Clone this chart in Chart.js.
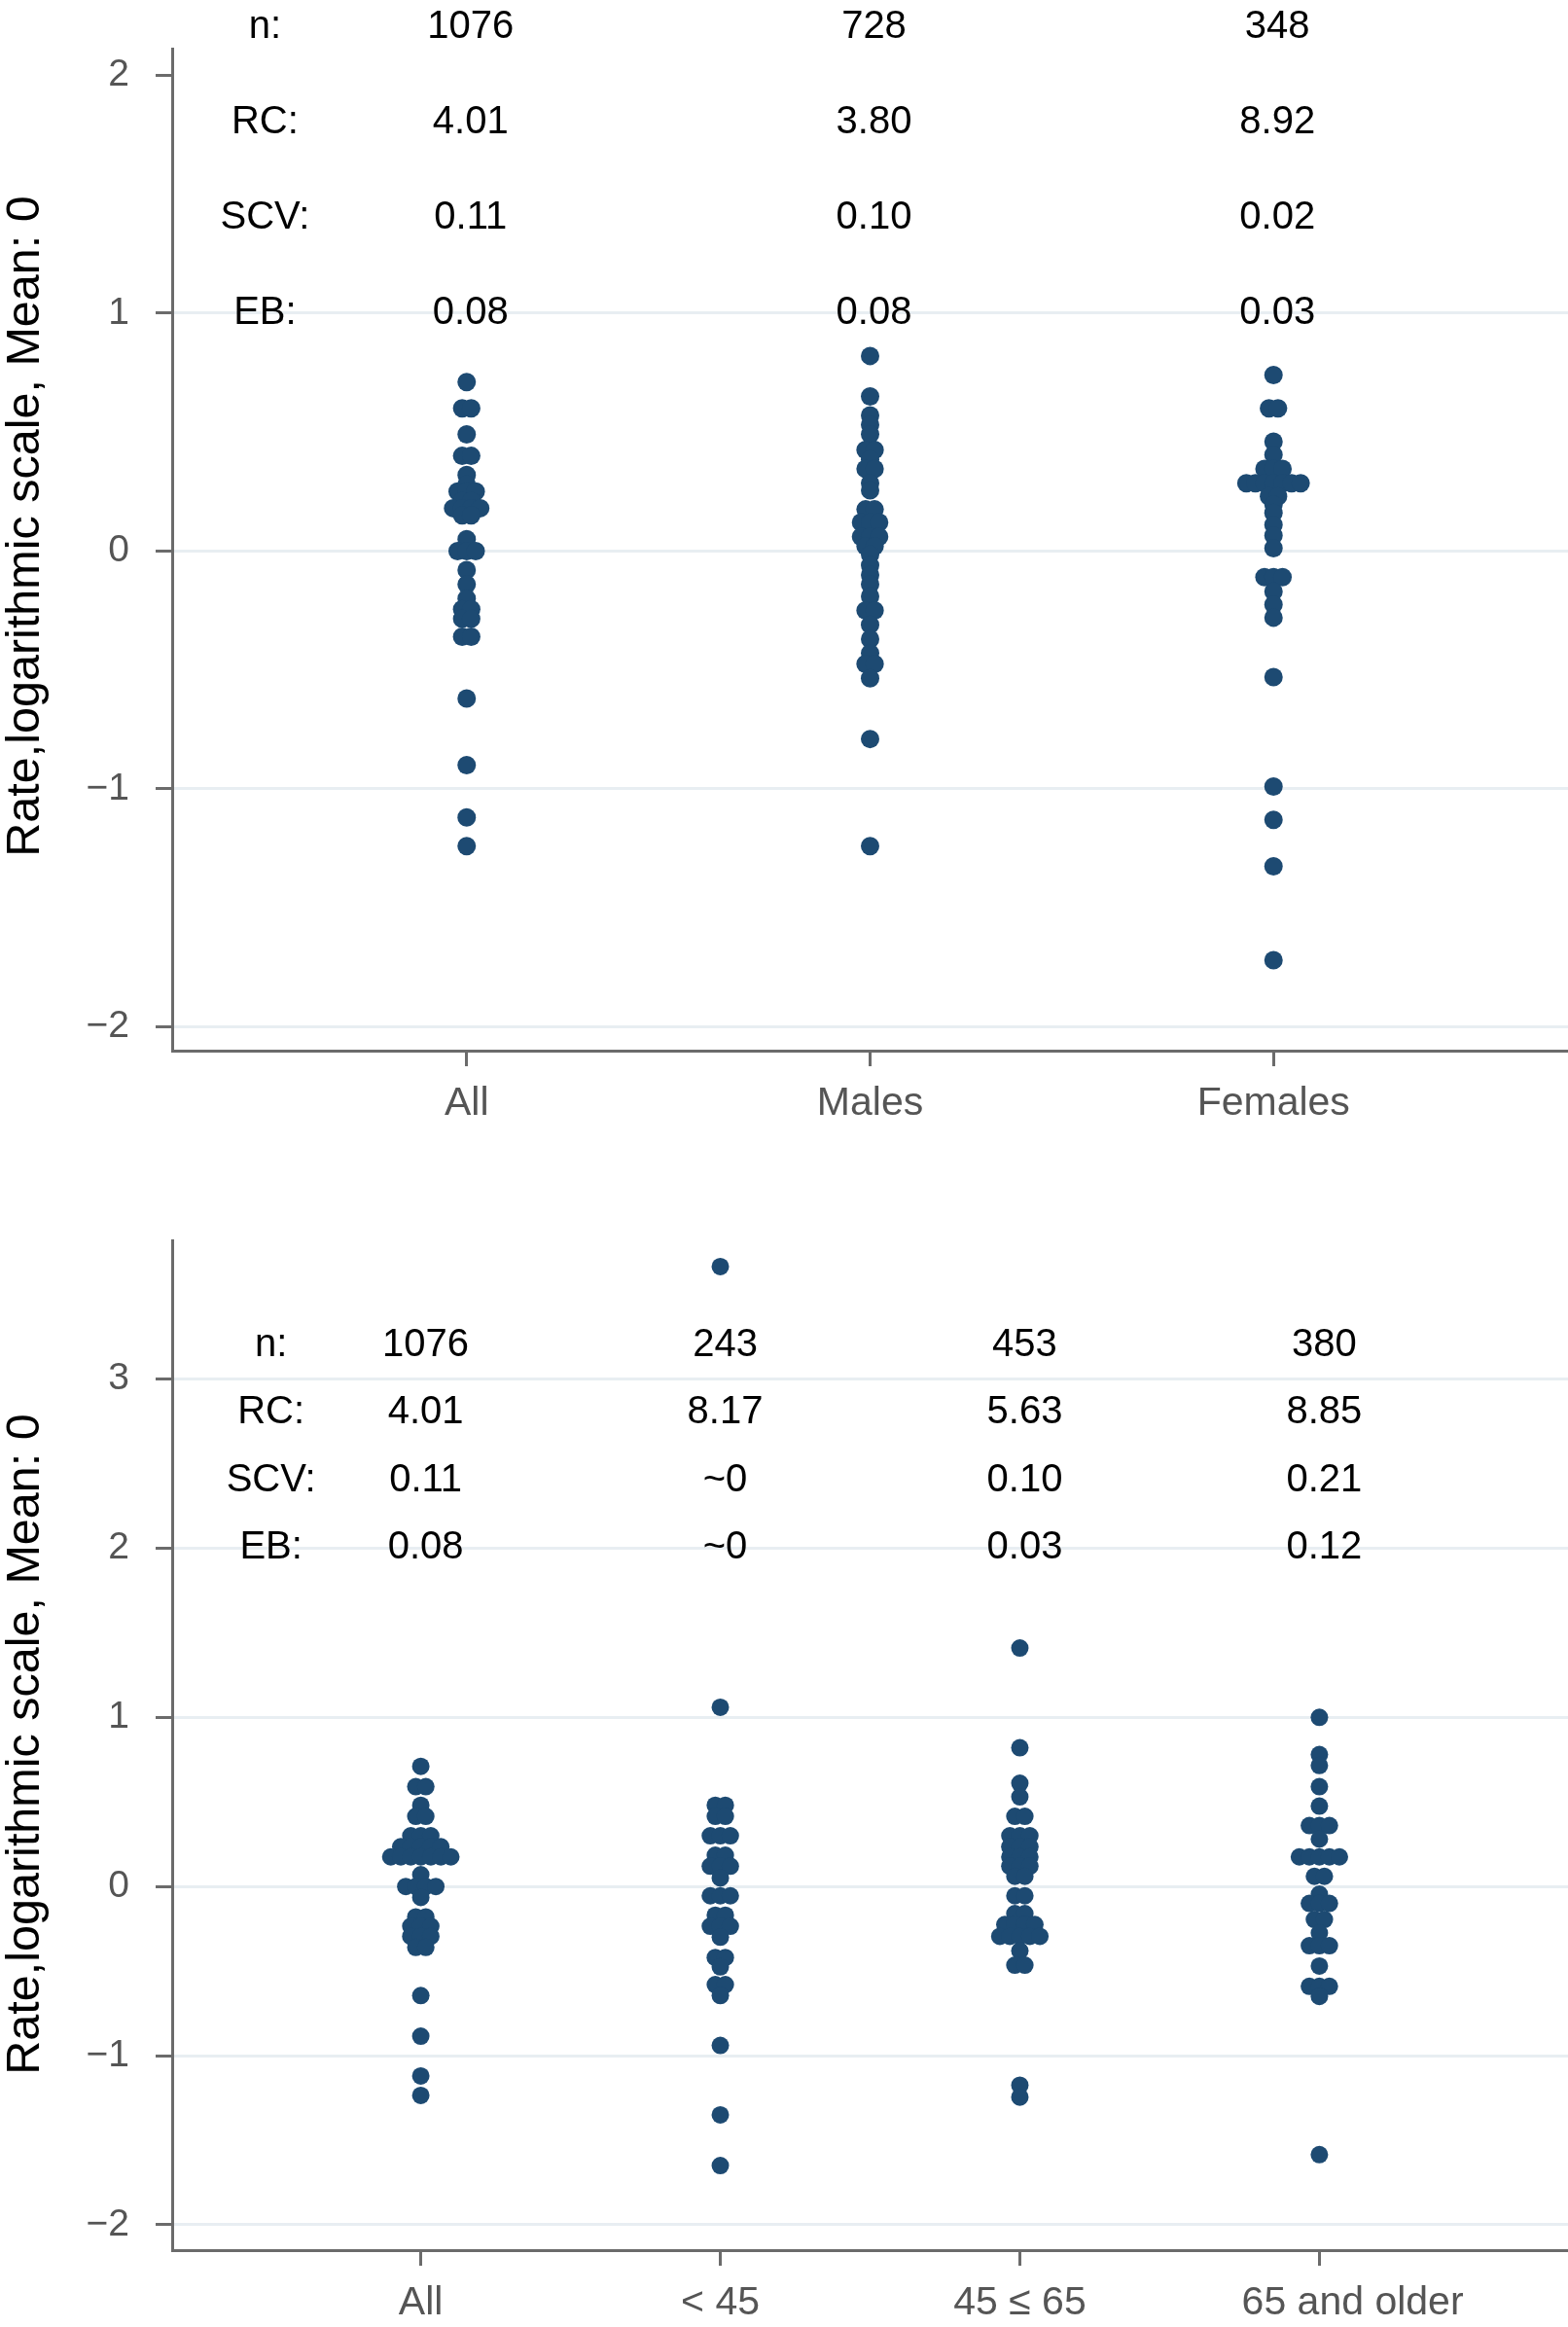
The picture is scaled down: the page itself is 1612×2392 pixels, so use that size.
<!DOCTYPE html>
<html><head><meta charset="utf-8">
<script src="https://cdn.jsdelivr.net/npm/chart.js@4.4.1/dist/chart.umd.min.js"></script>
<style>
html,body{margin:0;padding:0;background:#fff;}
#wrap{position:relative;width:1612px;height:2392px;overflow:hidden;}
canvas{position:absolute;left:0;}
#c1{top:0;} #c2{top:1180px;}
</style></head><body>
<div id="wrap"><canvas id="c1" width="1612" height="1180"></canvas><canvas id="c2" width="1612" height="1212"></canvas></div>
<script>
const FONT = '"Liberation Sans", Arial, Helvetica, sans-serif';
const DOT = '#1d4a72';

// ---------- top panel (sex) ----------
const topCategories = ['All', 'Males', 'Females'];
const topAll = [0.71, 0.60, 0.60, 0.49, 0.40, 0.40, 0.32, 0.28, 0.25, 0.25, 0.25, 0.21, 0.21,
  0.18, 0.18, 0.18, 0.18, 0.15, 0.15, 0.05, 0.0, 0.0, 0.0, -0.08, -0.14, -0.20, -0.245, -0.245,
  -0.285, -0.285, -0.36, -0.36, -0.62, -0.90, -1.12, -1.24];
const topMales = [0.82, 0.65, 0.57, 0.53, 0.49, 0.425, 0.425, 0.385, 0.345, 0.345, 0.285, 0.255,
  0.175, 0.175, 0.12, 0.12, 0.12, 0.06, 0.06, 0.06, 0.02, 0.02, -0.015, -0.06, -0.10, -0.14, -0.19,
  -0.25, -0.25, -0.31, -0.37, -0.43, -0.475, -0.475, -0.535, -0.79, -1.24];
const topFemales = [0.74, 0.60, 0.60, 0.46, 0.405, 0.345, 0.345, 0.345,
  0.285, 0.285, 0.285, 0.285, 0.285, 0.285, 0.285, 0.23, 0.23, 0.195, 0.16, 0.11, 0.065, 0.012,
  -0.11, -0.11, -0.11, -0.17, -0.225, -0.28, -0.53, -0.99, -1.13, -1.325, -1.72];
const topStatNames = ['n:', 'RC:', 'SCV:', 'EB:'];
const topN = ['1076', '728', '348'];
const topRC = ['4.01', '3.80', '8.92'];
const topSCV = ['0.11', '0.10', '0.02'];
const topEB = ['0.08', '0.08', '0.03'];
const topYTicks = [-2, -1, 0, 1, 2];
const topGridAt = [-2, -1, 0, 1];

// ---------- bottom panel (age) ----------
const botCategories = ['All', '< 45', '45 \u2264 65', '65 and older'];
const botAll = [0.71, 0.59, 0.59, 0.48, 0.415, 0.415, 0.30, 0.30, 0.30,
  0.235, 0.235, 0.235, 0.235, 0.235, 0.175, 0.175, 0.175, 0.175, 0.175, 0.175, 0.175,
  0.07, 0.0, 0.0, 0.0, 0.0, -0.065, -0.18, -0.18, -0.235, -0.235, -0.235, -0.295, -0.295, -0.295,
  -0.36, -0.36, -0.645, -0.885, -1.12, -1.235];
const botUnder45 = [3.665, 1.06, 0.48, 0.48, 0.415, 0.415, 0.30, 0.30, 0.30, 0.185, 0.185,
  0.12, 0.12, 0.12, 0.05, -0.055, -0.055, -0.055, -0.17, -0.17, -0.235, -0.235, -0.235, -0.30,
  -0.42, -0.42, -0.475, -0.58, -0.58, -0.645, -0.94, -1.35, -1.65];
const bot45to65 = [1.41, 0.82, 0.61, 0.53, 0.415, 0.415, 0.30, 0.30, 0.30, 0.235, 0.235, 0.235,
  0.175, 0.175, 0.175, 0.12, 0.12, 0.12, 0.06, 0.06, -0.055, -0.055, -0.16, -0.16,
  -0.225, -0.225, -0.225, -0.225, -0.295, -0.295, -0.295, -0.295, -0.295, -0.38, -0.465, -0.465,
  -1.175, -1.245];
const bot65plus = [1.0, 0.78, 0.715, 0.59, 0.475, 0.36, 0.36, 0.36, 0.28,
  0.175, 0.175, 0.175, 0.175, 0.175, 0.06, 0.06, -0.045, -0.10, -0.10, -0.10, -0.195, -0.195,
  -0.275, -0.35, -0.35, -0.35, -0.47, -0.59, -0.59, -0.59, -0.65, -1.585];
const botStatNames = ['n:', 'RC:', 'SCV:', 'EB:'];
const botN = ['1076', '243', '453', '380'];
const botRC = ['4.01', '8.17', '5.63', '8.85'];
const botSCV = ['0.11', '~0', '0.10', '0.21'];
const botEB = ['0.08', '~0', '0.03', '0.12'];
const botYTicks = [-2, -1, 0, 1, 2, 3];
const botGridAt = [-2, -1, 0, 1, 2, 3];

const Y_TITLE = 'Rate,logarithmic scale, Mean: 0';

// dot-plot layout: equal values are spread side by side around the category centre
function swarm(groups, step) {
  const pts = [];
  groups.forEach((vals, ci) => {
    const counts = new Map();
    vals.forEach(v => counts.set(v, (counts.get(v) || 0) + 1));
    const seen = new Map();
    vals.forEach(v => {
      const k = counts.get(v), i = seen.get(v) || 0;
      seen.set(v, i + 1);
      pts.push({ x: ci + (i - (k - 1) / 2) * step, y: v });
    });
  });
  return pts;
}

function fmt(v) { return v < 0 ? '\u2212' + Math.abs(v) : String(v); }

function makeChart(id, cfg) {
  const canvas = document.getElementById(id);
  const H = canvas.height, W = canvas.width;
  const axisW = 177;
  const pxPerUnit = (W - axisW) / (cfg.xMax - cfg.xMin);
  const points = swarm(cfg.groups, cfg.spacingPx / pxPerUnit);
  const textPlugin = {
    id: 'text' + id,
    afterDatasetsDraw(chart) {
      const { ctx, scales: { x, y } } = chart;
      ctx.save();
      ctx.font = '40px ' + FONT;
      ctx.fillStyle = '#000';
      ctx.textAlign = 'center';
      ctx.textBaseline = 'middle';
      cfg.statRows.forEach((row, r) => {
        const py = y.getPixelForValue(cfg.rowY[r]);
        ctx.fillText(cfg.statNames[r], x.getPixelForValue(cfg.labelX), py);
        row.forEach((t, ci) => ctx.fillText(t, x.getPixelForValue(ci) + cfg.dx, py));
      });
      // rotated y-axis title
      ctx.translate(27, cfg.titleY);
      ctx.rotate(-Math.PI / 2);
      ctx.font = '48.5px ' + FONT;
      ctx.fillText(Y_TITLE, 0, 0);
      ctx.restore();
    }
  };
  return new Chart(canvas, {
    type: 'scatter',
    data: { datasets: [{ data: points, backgroundColor: DOT, borderWidth: 0, pointRadius: cfg.r, pointHoverRadius: cfg.r }] },
    plugins: [textPlugin],
    options: {
      responsive: false, animation: false, devicePixelRatio: 1,
      layout: { autoPadding: false, padding: { top: cfg.top, right: 0, bottom: 0, left: 0 } },
      plugins: { legend: { display: false }, tooltip: { enabled: false } },
      scales: {
        x: {
          type: 'linear', min: cfg.xMin, max: cfg.xMax,
          afterFit: s => { s.height = H - cfg.bottom; },
          afterBuildTicks: s => { s.ticks = cfg.categories.map((c, i) => ({ value: i })); },
          ticks: {
            callback: v => '\u00a0'.repeat(cfg.labelPad[v] || 0) + cfg.categories[v],
            color: '#555', font: { family: FONT, size: 41 }, padding: 14, maxRotation: 0, autoSkip: false
          },
          grid: { color: 'rgba(0,0,0,0)', tickColor: '#6b6b6b', tickLength: 16, tickWidth: 3, drawTicks: true },
          border: { display: true, color: '#6b6b6b', width: 3 }
        },
        y: {
          min: cfg.yMin, max: cfg.yMax,
          afterFit: s => { s.width = axisW; },
          afterBuildTicks: s => { s.ticks = cfg.yTicks.map(v => ({ value: v })); },
          ticks: { callback: v => fmt(v), color: '#555', font: { family: FONT, size: 39 }, padding: 27 },
          grid: {
            color: c => (c.tick && cfg.gridAt.includes(c.tick.value)) ? '#e8eef2' : 'rgba(0,0,0,0)',
            lineWidth: 3, tickColor: '#6b6b6b', tickLength: 17, tickWidth: 3, drawTicks: true
          },
          border: { display: true, color: '#6b6b6b', width: 3 }
        }
      }
    }
  });
}

makeChart('c1', {
  categories: topCategories, groups: [topAll, topMales, topFemales], labelPad: [],
  statNames: topStatNames, statRows: [topN, topRC, topSCV, topEB], rowY: [2.2, 1.8, 1.4, 1.0],
  labelX: -0.5, dx: 4, titleY: 541,
  xMin: -0.73, xMax: 2.73, yMin: -2.1, yMax: 2.11, yTicks: topYTicks, gridAt: topGridAt,
  top: 44, bottom: 1080, r: 9.5, spacingPx: 9.3
});

makeChart('c2', {
  categories: botCategories, groups: [botAll, botUnder45, bot45to65, bot65plus], labelPad: [0, 0, 0, 6],
  statNames: botStatNames, statRows: [botN, botRC, botSCV, botEB], rowY: [3.2, 2.8, 2.4, 2.0],
  labelX: -0.5, dx: 5, titleY: 613,
  xMin: -0.83, xMax: 3.83, yMin: -2.15, yMax: 3.82, yTicks: botYTicks, gridAt: botGridAt,
  top: 95, bottom: 1133, r: 9, spacingPx: 10.3
});
</script>
</body></html>
